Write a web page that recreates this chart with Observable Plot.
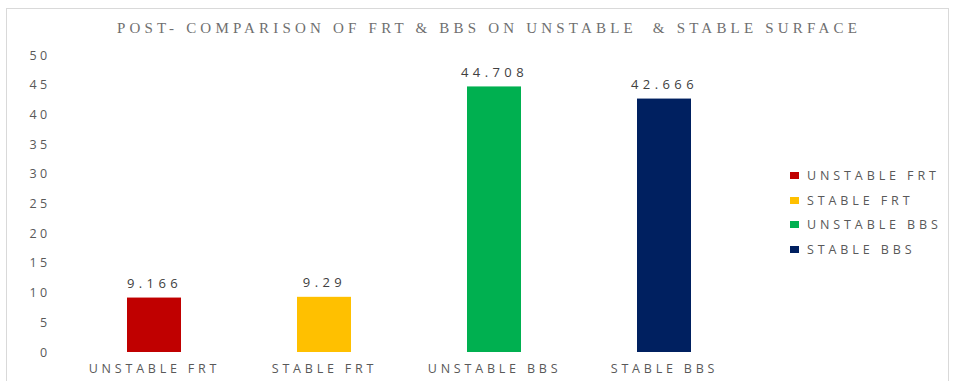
<!DOCTYPE html>
<html><head>
<meta charset="utf-8">
<script src="https://cdn.jsdelivr.net/npm/d3@7"></script>
<script src="https://cdn.jsdelivr.net/npm/@observablehq/plot@0.6"></script>
<style>
body{margin:0;background:#fff;}
#wrap{position:relative;width:955px;height:381px;overflow:hidden;}
#frame{position:absolute;left:6px;top:8px;width:943px;height:380px;border:1px solid #d9d9d9;box-sizing:border-box;}
#title{position:absolute;left:0;width:978px;top:20px;text-align:center;font-family:"Liberation Serif",serif;font-size:15px;letter-spacing:4.2px;color:#6f6f6f;white-space:pre;}
#chart{position:absolute;left:0;top:0;}
#chart g[aria-label="text"] text{letter-spacing:4.4px;}
#chart g[aria-label="y-axis tick label"] text{letter-spacing:3.3px;}
#legend{position:absolute;left:790px;top:168px;font-family:"Open Sans",sans-serif;font-size:12.5px;letter-spacing:3.9px;color:#595959;}
#legend div{height:24.5px;line-height:16px;white-space:nowrap;}
#legend span.sw{display:inline-block;width:9px;height:7px;margin-right:8px;vertical-align:1px;}
</style>
</head><body>
<div id="wrap">
<div id="frame"></div>
<div id="chart"></div>
<div id="title"></div>
<div id="legend"></div>
</div>
<script>
const titleText = "POST- COMPARISON OF FRT & BBS ON UNSTABLE  & STABLE SURFACE";
const categories = ["UNSTABLE FRT", "STABLE FRT", "UNSTABLE BBS", "STABLE BBS"];
const values = [9.166, 9.29, 44.708, 42.666];
const valueLabels = ["9.166", "9.29", "44.708", "42.666"];
const colors = ["#C00000", "#FFC000", "#00B050", "#002060"];
const yTicks = [0, 5, 10, 15, 20, 25, 30, 35, 40, 45, 50];

const data = categories.map((c, i) => ({cat: c, value: values[i], label: valueLabels[i]}));

document.getElementById("title").textContent = titleText;

const chart = Plot.plot({
  width: 955,
  height: 381,
  marginLeft: 68,
  marginRight: 205,
  marginTop: 55,
  marginBottom: 29,
  style: {fontFamily: "Open Sans, sans-serif", fontSize: "12.5px", color: "#595959", letterSpacing: "3.8px", background: "transparent"},
  x: {domain: categories, paddingInner: 0.68, paddingOuter: 0.34, label: null, tickSize: 0, tickPadding: 12},
  y: {domain: [0, 50], ticks: yTicks, label: null, tickSize: 0, tickPadding: 18},
  color: {domain: categories, range: colors},
  marks: [
    Plot.gridY(yTicks, {stroke: "#d9d9d9", strokeOpacity: 1, x1: 0, x2: 1}),
    Plot.barY(data, {x: "cat", y: "value", fill: "cat"}),
    Plot.text(data, {x: "cat", y: "value", text: "label", dy: -14, fill: "#404040", fontSize: 13})
  ]
});
document.getElementById("chart").appendChild(chart);

const legend = document.getElementById("legend");
categories.forEach((c, i) => {
  const row = document.createElement("div");
  const sw = document.createElement("span");
  sw.className = "sw";
  sw.style.background = colors[i];
  row.appendChild(sw);
  row.appendChild(document.createTextNode(c));
  legend.appendChild(row);
});
</script>
</body></html>
